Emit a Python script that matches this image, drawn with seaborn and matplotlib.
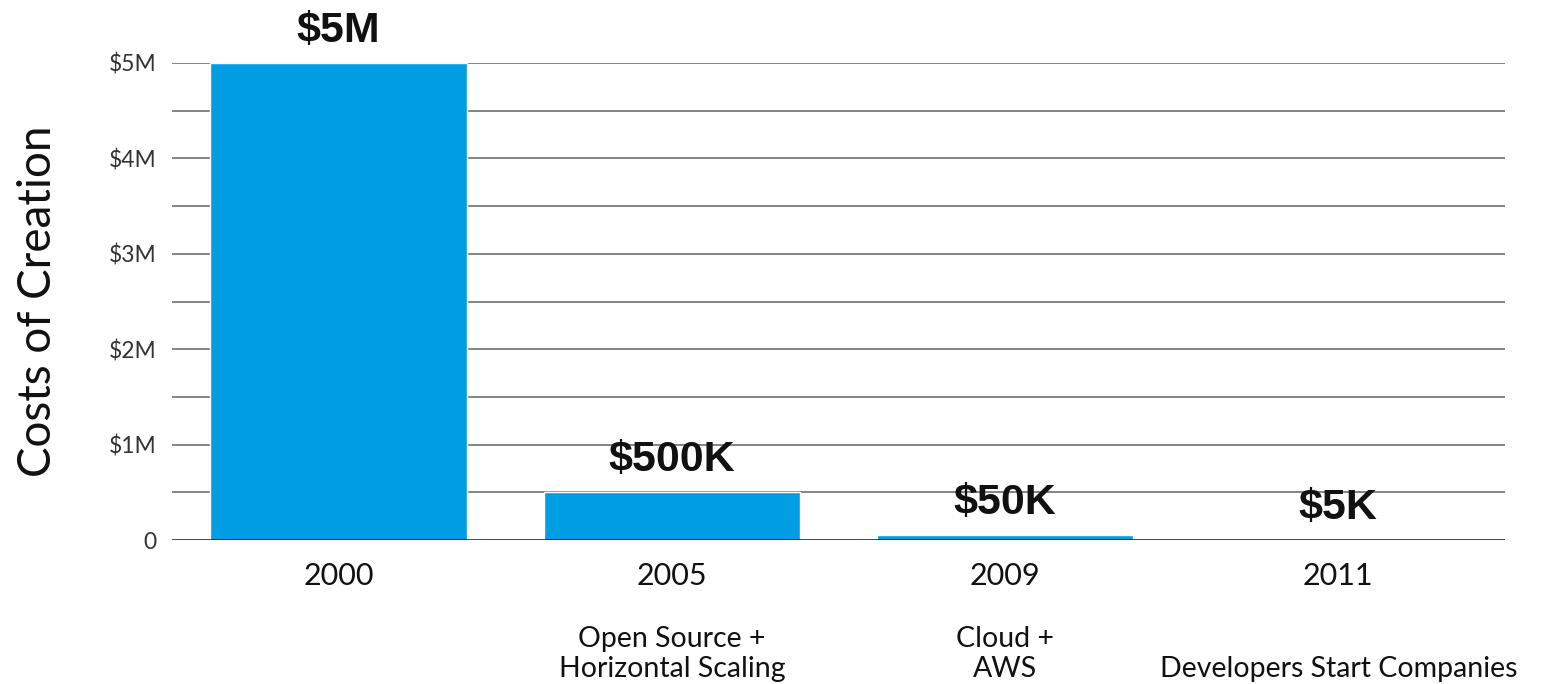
import matplotlib
matplotlib.use("Agg")
import matplotlib.pyplot as plt
import seaborn as sns
import pandas as pd

# Chart data
years = ["2000", "2005", "2009", "2011"]
costs = [5_000_000, 500_000, 50_000, 5_000]
value_labels = ["$5M", "$500K", "$50K", "$5K"]
driver_line1 = ["", "Open Source +", "Cloud +", ""]
driver_line2 = ["", "Horizontal Scaling", "AWS", "Developers Start Companies"]
ytick_values = [0, 1_000_000, 2_000_000, 3_000_000, 4_000_000, 5_000_000]
ytick_labels = ["0", "$1M", "$2M", "$3M", "$4M", "$5M"]
grid_values = [500_000 * i for i in range(1, 11)]

df = pd.DataFrame({"year": years, "cost": costs})

sns.set_theme(style="white")
plt.rcParams["font.family"] = ["Lato", "DejaVu Sans"]

fig = plt.figure(figsize=(15.55, 6.84), dpi=100)
ax = fig.add_axes([0.1106, 0.2105, 0.8572, 0.6974])

# Horizontal reference lines every half million
for g in grid_values:
    ax.axhline(g, color="#7a7a7a", linewidth=1.3, zorder=0)

sns.barplot(data=df, x="year", y="cost", color="#019ee3", saturation=1,
            width=0.77, ax=ax, zorder=2)
ax.axhline(0, color="#111111", linewidth=1.8, zorder=3)

ax.set_ylim(0, 5_000_000)
ax.set_xlim(-0.5, 3.5)
ax.set_yticks(ytick_values)
ax.set_yticklabels(ytick_labels, fontsize=16.5, color="#333333")
ax.tick_params(axis="y", length=0, pad=11)
ax.tick_params(axis="x", length=0, pad=16, labelsize=22)
for t in ax.get_xticklabels():
    t.set_color("#111111")
ax.set_xlabel("")
ax.set_ylabel("Costs of Creation", fontsize=33, color="#111111", labelpad=36)

for s in ax.spines.values():
    s.set_visible(False)

# Value labels above each bar
for i, (v, lab) in enumerate(zip(costs, value_labels)):
    ax.annotate(lab, xy=(i, v), xytext=(0, 23), textcoords="offset points",
                ha="center", va="center", fontsize=31, fontweight="bold",
                family="Liberation Sans", color="#111111", zorder=4)

# What drove the drop in cost, below each year
xform = ax.get_xaxis_transform()
for i, (l1, l2) in enumerate(zip(driver_line1, driver_line2)):
    if l1:
        ax.text(i, -0.207, l1, transform=xform, ha="center", va="center",
                fontsize=20.5, color="#111111")
    if l2:
        ax.text(i, -0.27, l2, transform=xform, ha="center", va="center",
                fontsize=20.5, color="#111111")

fig.savefig("out.png", dpi=100, facecolor="white")
